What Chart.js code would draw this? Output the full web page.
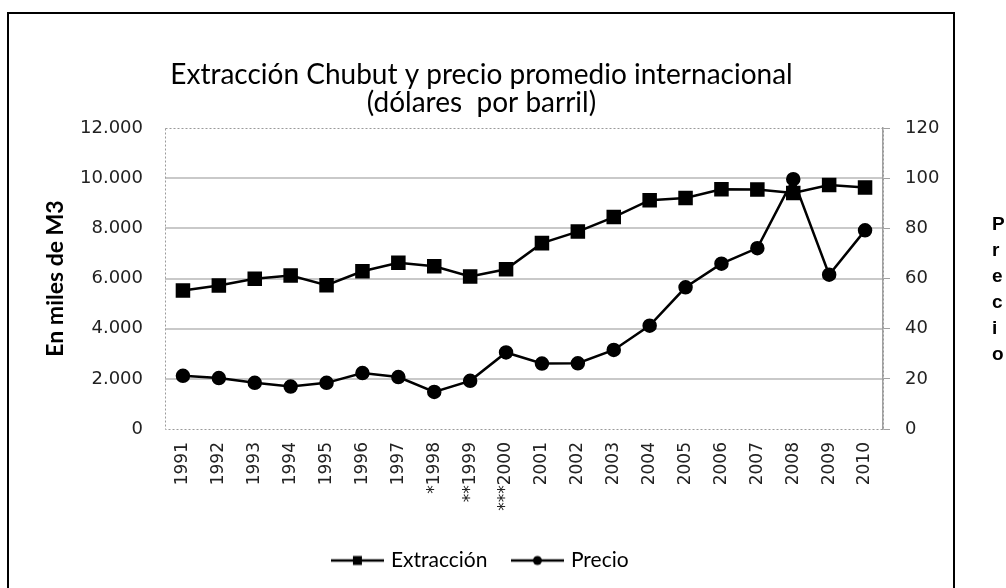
<!DOCTYPE html>
<html>
<head>
<meta charset="utf-8">
<script src="https://cdn.jsdelivr.net/npm/chart.js@4.4.1/dist/chart.umd.min.js"></script>
<style>
    body { margin: 0; background: #fff; }
    .wrap { position: relative; width: 1006px; height: 588px; overflow: hidden; }
    .frame { position: absolute; left: 7px; top: 12px; width: 948px; height: 600px; border: 2.5px solid #000; box-sizing: border-box; }
    canvas { position: absolute; left: 0; top: 0; }
    .side { position: absolute; left: 992px; top: 211px; width: 12px; word-break: break-all; font: bold 19px "Liberation Sans", Arial, sans-serif; line-height: 26px; color: #000; }
</style>
</head>
<body>
<div class="wrap">
    <div class="frame"></div>
    <canvas id="chart1" width="1006" height="588"></canvas>
    <div class="side">Precio</div>
</div>
<script>
// datos
const years = ['1991', '1992', '1993', '1994', '1995', '1996', '1997', '*1998', '**1999', '***2000',
    '2001', '2002', '2003', '2004', '2005', '2006', '2007', '2008', '2009', '2010'];
const extraccion = [5520, 5720, 5990, 6120, 5730, 6290, 6630, 6490, 6080, 6370,
    7410, 7870, 8450, 9120, 9210, 9560, 9550, 9410, 9730, 9630];
const precio = [21.2, 20.3, 18.4, 16.9, 18.4, 22.3, 20.7, 14.8, 19.2, 30.5,
    26.1, 26.2, 31.5, 41.2, 56.5, 65.9, 72.1, 99.6, 61.5, 79.2];
const leftTicks = [0, 2000, 4000, 6000, 8000, 10000, 12000];
const rightTicks = [0, 20, 40, 60, 80, 100, 120];

const tickFont = { family: '"DejaVu Sans", Verdana, sans-serif', size: 17 };

function miles(v) {
    return String(v).replace(/\B(?=(\d{3})+(?!\d))/g, '.');
}

// iconos de la leyenda: linea con marcador
function legendIcon(square) {
    const c = document.createElement('canvas');
    c.width = 53;
    c.height = 14;
    const g = c.getContext('2d');
    g.strokeStyle = '#000';
    g.lineWidth = 2.5;
    g.beginPath();
    g.moveTo(0, 7);
    g.lineTo(53, 7);
    g.stroke();
    g.fillStyle = '#000';
    if (square) {
        g.fillRect(22, 2.5, 9, 9);
    } else {
        g.beginPath();
        g.arc(26.5, 7, 4.5, 0, Math.PI * 2);
        g.fill();
    }
    return c;
}

// borde punteado del area de trazado
const plotBorder = {
    id: 'plotBorder',
    beforeDatasetsDraw(chart) {
        const a = chart.chartArea;
        const ctx = chart.ctx;
        ctx.save();
        ctx.strokeStyle = '#9a9a9a';
        ctx.lineWidth = 1;
        ctx.setLineDash([2, 2]);
        ctx.strokeRect(a.left + 0.5, a.top + 0.5, a.right - a.left, a.bottom - a.top);
        ctx.restore();
    }
};

const ctx = document.querySelector('#chart1');

new Chart(ctx, {
    type: 'line',
    data: {
        labels: years,
        datasets: [{
            label: 'Extracción',
            data: extraccion,
            yAxisID: 'y',
            borderColor: '#000',
            backgroundColor: '#000',
            borderWidth: 2.5,
            pointStyle: 'rect',
            pointRadius: 8.5,
            pointHoverRadius: 8.5,
            tension: 0
        }, {
            label: 'Precio',
            data: precio,
            yAxisID: 'y1',
            borderColor: '#000',
            backgroundColor: '#000',
            borderWidth: 2.5,
            pointStyle: 'circle',
            pointRadius: 6,
            pointHoverRadius: 6,
            tension: 0
        }]
    },
    options: {
        responsive: false,
        animation: false,
        layout: {
            padding: { left: 0, right: 43, top: 0, bottom: 7 }
        },
        plugins: {
            title: {
                display: true,
                text: ['Extracción Chubut y precio promedio internacional', '(dólares  por barril)'],
                color: '#000',
                font: { family: 'Lato, "Open Sans", sans-serif', size: 28, weight: 'normal', lineHeight: 1.0 },
                padding: { top: 61, bottom: 11 }
            },
            legend: {
                position: 'bottom',
                labels: {
                    color: '#000',
                    font: { family: 'Lato, "Open Sans", sans-serif', size: 21 },
                    usePointStyle: true,
                    pointStyleWidth: 46,
                    padding: 27,
                    generateLabels(chart) {
                        return chart.data.datasets.map(function (d, i) {
                            return {
                                text: d.label,
                                pointStyle: legendIcon(i == 0),
                                fillStyle: '#000',
                                strokeStyle: '#000',
                                lineWidth: 0,
                                fontColor: '#000',
                                datasetIndex: i
                            };
                        });
                    }
                }
            },
            tooltip: { enabled: false }
        },
        scales: {
            x: {
                offset: true,
                grid: { display: false, drawTicks: false, offset: true },
                border: { display: false },
                ticks: {
                    color: '#222',
                    font: tickFont,
                    minRotation: 90,
                    maxRotation: 90,
                    padding: 13,
                    autoSkip: false
                },
                afterFit(scale) {
                    scale.height = 94;
                }
            },
            y: {
                position: 'left',
                min: 0,
                max: 12000,
                afterBuildTicks(scale) {
                    scale.ticks = leftTicks.map(function (v) { return { value: v }; });
                },
                grid: {
                    drawTicks: false,
                    lineWidth: 2,
                    color(c) {
                        if (c.tick && (c.tick.value == 0 || c.tick.value == 12000)) return 'rgba(0,0,0,0)';
                        return '#c9c9c9';
                    }
                },
                border: { display: false },
                ticks: {
                    color: '#222',
                    font: { family: '"DejaVu Sans", Verdana, sans-serif', size: 18 },
                    padding: 22,
                    callback(v) { return miles(v); }
                },
                title: {
                    display: true,
                    text: 'En miles de M3',
                    color: '#000',
                    font: { family: 'Lato, "Open Sans", sans-serif', size: 23, weight: 'bold' },
                    padding: { top: 42, bottom: 0 }
                },
                afterFit(scale) {
                    scale.width = 165;
                }
            },
            y1: {
                position: 'right',
                min: 0,
                max: 120,
                afterBuildTicks(scale) {
                    scale.ticks = rightTicks.map(function (v) { return { value: v }; });
                },
                grid: {
                    drawOnChartArea: false,
                    drawTicks: true,
                    tickLength: 7,
                    color: '#a0a0a0',
                    lineWidth: 1
                },
                border: { display: true, color: '#a0a0a0', width: 1.5 },
                ticks: {
                    color: '#222',
                    font: { family: '"DejaVu Sans", Verdana, sans-serif', size: 18 },
                    padding: 15
                },
                afterFit(scale) {
                    scale.width = 80;
                }
            }
        }
    },
    plugins: [plotBorder]
});
</script>
</body>
</html>
